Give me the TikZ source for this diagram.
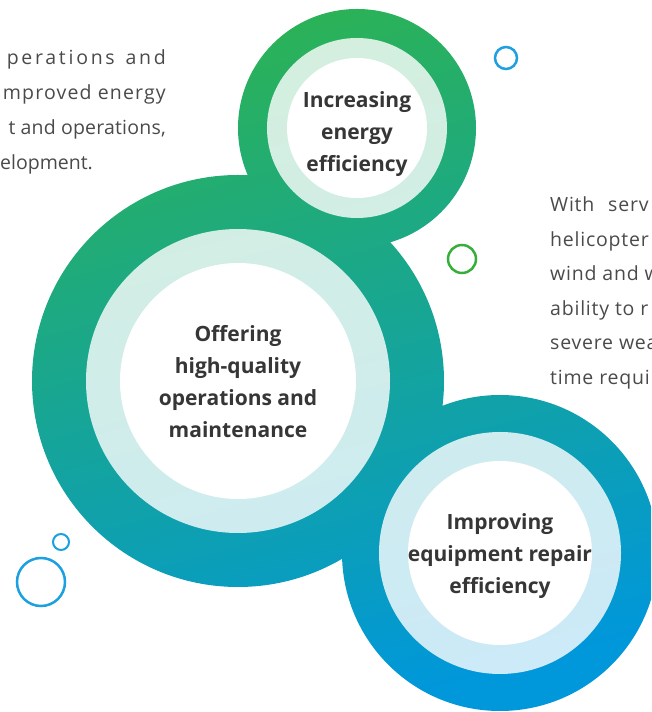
\documentclass[tikz,border=0pt]{standalone}
\usepackage{fontspec}
\setmainfont{Open Sans}

\definecolor{ringtop}{HTML}{2BB257}
\definecolor{ringmid}{HTML}{03A896}
\definecolor{ringbot}{HTML}{0097DB}
\definecolor{bubbleblue}{HTML}{1CA0E0}
\definecolor{bubblegreen}{HTML}{36AE3A}
\definecolor{labeltext}{HTML}{363636}
\definecolor{bodytext}{HTML}{4A4A4A}

\begin{document}
\begin{tikzpicture}[x=1pt, y=1pt]

        \tikzstyle{halo}=[fill=white, fill opacity=0.8]
        \tikzstyle{ringtext}=[align=center, inner sep=0pt, text=labeltext, font=\fontsize{21}{32}\selectfont\bfseries]
        \tikzstyle{bubble}=[circle, draw, line width=2.5pt, inner sep=0pt]
        \tikzstyle{leftbody}=[anchor=base east, inner sep=0pt, text=bodytext, font=\fontsize{19.5}{35}\selectfont]
        \tikzstyle{rightbody}=[anchor=base west, inner sep=0pt, text=bodytext, font=\fontsize{19.5}{35}\selectfont\addfontfeatures{LetterSpace=4}]

        \useasboundingbox (0,0) rectangle (651,712);
        \clip (0,0) rectangle (651,712);

        \coordinate (r_1) at (238,331);
        \coordinate (r_2) at (357,584);
        \coordinate (r_3) at (500,159);

        % rings
        \shade[top color=ringtop, middle color=ringmid, bottom color=ringbot, shading angle=15]
        (r_1) circle (206) (r_2) circle (119) (r_3) circle (158);
        \fill[halo] (r_1) circle (152) (r_2) circle (90) (r_3) circle (121);
        \fill[white] (r_1) circle (118) (r_2) circle (70) (r_3) circle (92);

        \node[ringtext, yshift=-1pt]   (q_1) at (r_1) {Offering\\high-quality\\operations and\\maintenance};
        \node[ringtext, yshift=-6pt]   (q_2) at (r_2) {Increasing\\energy\\efficiency};
        \node[ringtext, yshift=-3pt]   (q_3) at (r_3) {Improving\\equipment repair\\efficiency};

        % bubbles
        \node[bubble, draw=bubbleblue, minimum size=22pt]   (b_1) at (506,654) {};
        \node[bubble, draw=bubblegreen, minimum size=28pt]   (b_2) at (462,453) {};
        \node[bubble, draw=bubbleblue, minimum size=16pt, line width=2pt]   (b_3) at (61,170) {};
        \node[bubble, draw=bubbleblue, minimum size=48pt]   (b_4) at (41,130) {};

        % side text
        \node[leftbody]   (s_1) at (166,647) {\addfontfeatures{LetterSpace=14}perations\hspace{3pt} and};
        \node[leftbody]   (s_2) at (166,612) {\addfontfeatures{LetterSpace=6}mproved energy};
        \node[leftbody]   (s_3) at (166,577) {\addfontfeatures{LetterSpace=1}t and operations,};
        \node[leftbody, anchor=base west]   (s_4) at (0,542) {elopment.};
        \node[rightbody]   (t_1) at (550,500) {With\hspace{8pt} serv};
        \node[rightbody]   (t_2) at (550,465.5) {helicopter};
        \node[rightbody]   (t_3) at (550,431) {wind and w};
        \node[rightbody]   (t_4) at (550,396.5) {ability to r};
        \node[rightbody]   (t_5) at (550,362) {severe wea};
        \node[rightbody]   (t_6) at (550,327.5) {time requir};

\end{tikzpicture}
\end{document}
